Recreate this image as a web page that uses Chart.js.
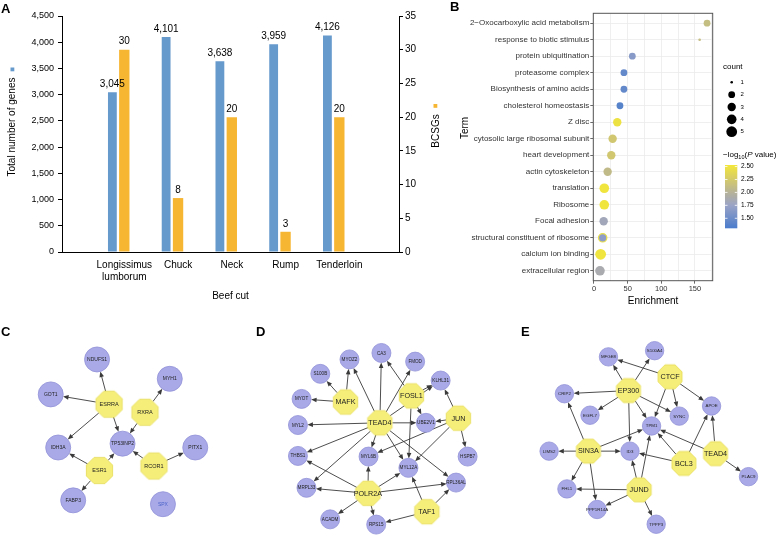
<!DOCTYPE html>
<html>
<head>
<meta charset="utf-8">
<script src="https://cdn.jsdelivr.net/npm/chart.js@4/dist/chart.umd.min.js"></script>
<style>
  html, body { margin: 0; padding: 0; background: #fff; }
  body { width: 780px; height: 545px; position: relative; overflow: hidden; font-family: 'Liberation Sans', Arial, sans-serif; }
  .panel { position: absolute; }
  .tag { position: absolute; font-weight: bold; font-size: 13px; line-height: 13px; color: #000; }
</style>
</head>
<body>
<div class="panel" style="left:0;top:0;width:445px;height:305px"><canvas id="barChart"></canvas></div>
<div class="panel" style="left:445px;top:0;width:335px;height:310px"><canvas id="dotChart"></canvas></div>
<div class="panel" style="left:0;top:290px;width:260px;height:255px"><canvas id="netC"></canvas></div>
<div class="panel" style="left:260px;top:290px;width:260px;height:255px"><canvas id="netD"></canvas></div>
<div class="panel" style="left:520px;top:290px;width:260px;height:255px"><canvas id="netE"></canvas></div>
<div class="tag" style="left:1px;top:2px">A</div>
<div class="tag" style="left:450px;top:0px">B</div>
<div class="tag" style="left:1px;top:325px">C</div>
<div class="tag" style="left:256px;top:325px">D</div>
<div class="tag" style="left:521px;top:325px">E</div>
<script>
'use strict';

// ── Panel A: genes per beef cut ──
const cuts = [['Longissimus', 'lumborum'], 'Chuck', 'Neck', 'Rump', 'Tenderloin'];
const totalGenes = [3045, 4101, 3638, 3959, 4126];
const bcsgs = [30, 8, 20, 3, 20];

// ── Panel B: enrichment terms ──
const terms = [
  '2−Oxocarboxylic acid metabolism', 'response to biotic stimulus', 'protein ubiquitination',
  'proteasome complex', 'Biosynthesis of amino acids', 'cholesterol homeostasis', 'Z disc',
  'cytosolic large ribosomal subunit', 'heart development', 'actin cytoskeleton', 'translation',
  'Ribosome', 'Focal adhesion', 'structural constituent of ribosome', 'calcium ion binding',
  'extracellular region',
];
const enrichment = [168, 157, 57, 44.5, 44.5, 38.6, 34.6, 27.7, 25.7, 20.3, 15.3, 15.3, 14.4, 12.9, 9.9, 8.9];
const termCount = [2, 1, 2, 2, 2, 2, 3, 3, 3, 3, 4, 4, 3, 3, 5, 4];
const logP = [2.12, 2.12, 1.65, 1.45, 1.45, 1.38, 2.48, 2.22, 2.22, 2.08, 2.5, 2.5, 1.82, 1.68, 2.5, 1.88];
const enrichTicks = [0, 50, 100, 150];
const enrichGrid = [0, 25, 50, 75, 100, 125, 150, 175];
const countLevels = [1, 2, 3, 4, 5];
const logPTicks = [1.5, 1.75, 2.0, 2.25, 2.5];

// ── Panels C–E: regulatory networks (layout coordinates) ──
const cNodes = ['NDUFS1', 'GOT1', 'MYH1', 'ESRRA', 'RXRA', 'IDH3A', 'TP53INP2', 'PITX1', 'ESR1', 'RCOR1', 'FABP3', 'SPX'];
const cX = [93.3, 41.7, 174.3, 106.7, 146.7, 50, 121.7, 202.7, 96, 156.7, 66.7, 166.7];
const cY = [62.7, 101.7, 84.3, 112.7, 121.7, 161, 156.7, 161, 186.7, 181.7, 220, 224.3];
const cTF = ['ESRRA', 'RXRA', 'ESR1', 'RCOR1'];
const cEdges = [
  ['ESRRA', 'NDUFS1'], ['ESRRA', 'GOT1'], ['ESRRA', 'IDH3A'], ['ESRRA', 'TP53INP2'],
  ['RXRA', 'MYH1'], ['RXRA', 'TP53INP2'], ['ESR1', 'IDH3A'], ['ESR1', 'TP53INP2'],
  ['ESR1', 'FABP3'], ['RCOR1', 'TP53INP2'], ['RCOR1', 'PITX1'],
];

const dNodes = ['MYOZ2', 'CA3', 'FMOD', 'S100B', 'KLHL31', 'MYOT', 'MAFK', 'FOSL1', 'JUN', 'TEAD4', 'UBE2V1',
  'MYL2', 'THBS1', 'MYL6B', 'MYL12A', 'HSPB7', 'MRPL33', 'POLR2A', 'RPL36AL', 'TAF1', 'ACADM', 'RPS15'];
const dX = [86, 120.7, 157.3, 54.3, 185, 34, 81.7, 153.3, 204.3, 119, 169, 30, 30, 106.7, 150, 214.3, 39.3, 106, 201.7, 170, 65, 115];
const dY = [64.3, 57.3, 66.7, 80, 87.3, 107.3, 110.7, 104, 128.3, 133.3, 133.3, 135.7, 169.3, 170, 182.3, 170, 204, 210, 198.3, 230, 238.3, 244];
const dTF = ['MAFK', 'FOSL1', 'JUN', 'TEAD4', 'POLR2A', 'TAF1'];
const dEdges = [
  ['MAFK', 'MYOZ2'], ['MAFK', 'S100B'], ['MAFK', 'MYOT'],
  ['TEAD4', 'MYOZ2'], ['TEAD4', 'CA3'], ['TEAD4', 'FMOD'], ['TEAD4', 'KLHL31'], ['TEAD4', 'MYL2'],
  ['TEAD4', 'UBE2V1'], ['TEAD4', 'THBS1'], ['TEAD4', 'MYL6B'], ['TEAD4', 'MYL12A'], ['TEAD4', 'RPL36AL'],
  ['TEAD4', 'MRPL33'],
  ['FOSL1', 'CA3'], ['FOSL1', 'KLHL31'], ['FOSL1', 'UBE2V1'], ['FOSL1', 'MYL12A'],
  ['JUN', 'KLHL31'], ['JUN', 'HSPB7'], ['JUN', 'UBE2V1'], ['JUN', 'MYL6B'], ['JUN', 'MYL12A'],
  ['POLR2A', 'THBS1'], ['POLR2A', 'MRPL33'], ['POLR2A', 'MYL6B'], ['POLR2A', 'MYL12A'],
  ['POLR2A', 'RPL36AL'], ['POLR2A', 'ACADM'], ['POLR2A', 'RPS15'],
  ['TAF1', 'MYL12A'], ['TAF1', 'RPL36AL'], ['TAF1', 'RPS15'],
];

const eNodes = ['MFGE8', 'S100A4', 'CTCF', 'EP300', 'CRIP2', 'EGFL7', 'SYNC', 'APOE', 'TPM1', 'LIMS2', 'SIN3A',
  'ID3', 'BCL3', 'TEAD4', 'PLAC9', 'FHL1', 'JUND', 'PPP1R14A', 'TPPP3'];
const eX = [85, 135, 151.7, 106.7, 37.3, 65, 161.7, 196.7, 131.7, 20.7, 63.3, 108.3, 166.7, 201, 236.7, 40, 118.3, 72.7, 136.7];
const eY = [61.7, 55, 83.3, 98.3, 101.7, 125, 126, 115, 136.7, 164, 164, 164, 177.3, 166.7, 191.7, 205, 206, 227.3, 243.3];
const eTF = ['CTCF', 'EP300', 'SIN3A', 'BCL3', 'TEAD4', 'JUND'];
const eEdges = [
  ['CTCF', 'MFGE8'], ['CTCF', 'SYNC'], ['CTCF', 'APOE'], ['CTCF', 'TPM1'],
  ['EP300', 'MFGE8'], ['EP300', 'S100A4'], ['EP300', 'CRIP2'], ['EP300', 'EGFL7'], ['EP300', 'SYNC'],
  ['EP300', 'TPM1'], ['EP300', 'ID3'],
  ['SIN3A', 'CRIP2'], ['SIN3A', 'LIMS2'], ['SIN3A', 'ID3'], ['SIN3A', 'TPM1'], ['SIN3A', 'FHL1'], ['SIN3A', 'PPP1R14A'],
  ['BCL3', 'APOE'], ['BCL3', 'TPM1'], ['BCL3', 'ID3'],
  ['TEAD4', 'APOE'], ['TEAD4', 'TPM1'], ['TEAD4', 'PLAC9'],
  ['JUND', 'ID3'], ['JUND', 'TPM1'], ['JUND', 'FHL1'], ['JUND', 'PPP1R14A'], ['JUND', 'TPPP3'],
];

const FONT = "'Liberation Sans', Arial, sans-serif";
Chart.defaults.font.family = FONT;
Chart.defaults.color = '#000';
Chart.defaults.animation = false;
Chart.defaults.plugins.legend.display = false;
Chart.defaults.plugins.tooltip.enabled = false;

const BLUE = '#6699cc';
const ORANGE = '#f7b632';

// ── A: bar value labels + rotated axis titles ──
const barExtras = {
  id: 'barExtras',
  afterDatasetsDraw(chart) {
    const ctx = chart.ctx;
    ctx.save();
    ctx.font = '10px ' + FONT;
    ctx.fillStyle = '#000';
    ctx.textAlign = 'center';
    ctx.textBaseline = 'bottom';
    chart.data.datasets.forEach((ds, di) => {
      chart.getDatasetMeta(di).data.forEach((bar, i) => {
        ctx.fillText(ds.data[i].y.toLocaleString('en-US'), bar.x, bar.y - 3);
      });
    });
    ctx.textBaseline = 'middle';
    ctx.save();
    ctx.translate(12, 127);
    ctx.rotate(-Math.PI / 2);
    ctx.fillText('Total number of genes', 0, 0);
    ctx.restore();
    ctx.save();
    ctx.translate(436, 131);
    ctx.rotate(-Math.PI / 2);
    ctx.fillText('BCSGs', 0, 0);
    ctx.restore();
    ctx.fillStyle = BLUE;
    ctx.fillRect(10.5, 67.5, 3.8, 3.8);
    ctx.fillStyle = ORANGE;
    ctx.fillRect(433.5, 104, 3.8, 3.8);
    ctx.restore();
  },
};

new Chart(document.getElementById('barChart'), {
  type: 'bar',
  data: {
    datasets: [
      {
        data: totalGenes.map((v, i) => ({ x: i, y: v })), yAxisID: 'y',
        backgroundColor: BLUE, categoryPercentage: 0.443, barPercentage: 0.74,
      },
      {
        data: bcsgs.map((v, i) => ({ x: i, y: v })), yAxisID: 'y2',
        backgroundColor: ORANGE, categoryPercentage: 0.443, barPercentage: 0.87,
      },
    ],
  },
  options: {
    responsive: true, maintainAspectRatio: false,
    layout: { padding: { top: 16, left: 0, right: 0, bottom: 0 } },
    scales: {
      x: {
        type: 'linear', min: -0.421, max: 4.594,
        afterBuildTicks: (s) => { s.ticks = cuts.map((c, i) => ({ value: i })); },
        ticks: { font: { size: 10 }, padding: 7, labelOffset: 6, maxRotation: 0, autoSkip: false, callback: (v) => cuts[v] },
        grid: { display: false, drawTicks: false },
        border: { display: true, color: '#000', width: 1 },
        title: { display: true, text: 'Beef cut', font: { size: 10 }, padding: { top: 0, bottom: 3 } },
        afterFit: (s) => { s.height = 53; },
      },
      y: {
        position: 'left', min: 0, max: 4500,
        ticks: { stepSize: 500, font: { size: 9 }, padding: 4, callback: (v) => v.toLocaleString('en-US') },
        grid: { drawOnChartArea: false, tickLength: 4, color: '#000' },
        border: { color: '#000', width: 1 },
        afterFit: (s) => { s.width = 62; },
      },
      y2: {
        position: 'right', min: 0, max: 35,
        ticks: { stepSize: 5, font: { size: 10 }, padding: 2 },
        grid: { drawOnChartArea: false, tickLength: 4, color: '#000' },
        border: { color: '#000', width: 1 },
        afterFit: (s) => { s.width = 46; },
      },
    },
  },
  plugins: [barExtras],
});

// ── B: colour scale for −log10(P) ──
const P_STOPS = [
  [1.306, [74, 124, 204]], [1.75, [154, 163, 198]], [2.0, [182, 178, 152]],
  [2.25, [212, 202, 106]], [2.53, [243, 231, 58]],
];
function pColor(v) {
  if (v <= P_STOPS[0][0]) return 'rgb(' + P_STOPS[0][1].join(',') + ')';
  for (let i = 1; i < P_STOPS.length; i++) {
    if (v <= P_STOPS[i][0]) {
      const t = (v - P_STOPS[i - 1][0]) / (P_STOPS[i][0] - P_STOPS[i - 1][0]);
      const a = P_STOPS[i - 1][1], b = P_STOPS[i][1];
      return 'rgb(' + a.map((c, k) => Math.round(c + (b[k] - c) * t)).join(',') + ')';
    }
  }
  return 'rgb(' + P_STOPS[P_STOPS.length - 1][1].join(',') + ')';
}
const countRadius = (c) => [1.3, 3.4, 4.2, 4.8, 5.4][c - 1];

const dotExtras = {
  id: 'dotExtras',
  beforeDatasetsDraw(chart) {
    const { ctx, chartArea: a } = chart;
    ctx.save();
    ctx.strokeStyle = '#555';
    ctx.lineWidth = 1;
    ctx.strokeRect(a.left, a.top, a.right - a.left, a.bottom - a.top);
    ctx.fillStyle = '#000';
    ctx.font = '10px ' + FONT;
    ctx.textAlign = 'center';
    ctx.textBaseline = 'middle';
    ctx.translate(20.5, 128);
    ctx.rotate(-Math.PI / 2);
    ctx.fillText('Term', 0, 0);
    ctx.restore();
  },
  afterDraw(chart) {
    const ctx = chart.ctx;
    ctx.save();
    ctx.fillStyle = '#000';
    ctx.textAlign = 'left';
    ctx.textBaseline = 'middle';
    ctx.font = '8px ' + FONT;
    ctx.fillText('count', 278, 67);
    ctx.font = '6px ' + FONT;
    countLevels.forEach((c, i) => {
      const cy = 82.3 + i * 12.35;
      ctx.beginPath();
      ctx.arc(286.7, cy, countRadius(c), 0, Math.PI * 2);
      ctx.fill();
      ctx.fillText(String(c), 295.5, cy);
    });
    // colour bar title: −log10(P value)
    let tx = 278;
    const ty = 155;
    ctx.font = '8px ' + FONT;
    ctx.fillText('−log', tx, ty); tx += ctx.measureText('−log').width;
    ctx.font = '5.5px ' + FONT;
    ctx.fillText('10', tx, ty + 2); tx += ctx.measureText('10').width;
    ctx.font = '8px ' + FONT;
    ctx.fillText('(', tx, ty); tx += ctx.measureText('(').width;
    ctx.font = 'italic 8px ' + FONT;
    ctx.fillText('P', tx, ty); tx += ctx.measureText('P').width;
    ctx.font = '8px ' + FONT;
    ctx.fillText(' value)', tx, ty);
    // colour bar
    const top = 165, bottom = 228.3, lo = P_STOPS[0][0], hi = P_STOPS[P_STOPS.length - 1][0];
    const yOf = (v) => bottom - (v - lo) / (hi - lo) * (bottom - top);
    const grad = ctx.createLinearGradient(0, bottom, 0, top);
    P_STOPS.forEach(([v]) => grad.addColorStop((v - lo) / (hi - lo), pColor(v)));
    ctx.fillStyle = grad;
    ctx.fillRect(280, top, 12.3, bottom - top);
    ctx.strokeStyle = '#fff';
    ctx.lineWidth = 0.8;
    ctx.fillStyle = '#000';
    ctx.font = '6.5px ' + FONT;
    logPTicks.forEach((v) => {
      const y = yOf(v);
      ctx.beginPath();
      ctx.moveTo(280, y); ctx.lineTo(282.5, y);
      ctx.moveTo(289.8, y); ctx.lineTo(292.3, y);
      ctx.stroke();
      ctx.fillText(v.toFixed(2), 296, y);
    });
    ctx.restore();
  },
};

new Chart(document.getElementById('dotChart'), {
  type: 'scatter',
  data: {
    datasets: [{
      data: enrichment.map((v, i) => ({ x: v, y: i })),
      pointRadius: termCount.map(countRadius),
      backgroundColor: logP.map(pColor),
      borderColor: terms.map((t, i) => (i === 13 ? '#e9df4c' : 'rgba(0,0,0,0)')),
      borderWidth: terms.map((t, i) => (i === 13 ? 1.2 : 0)),
      clip: false,
    }],
  },
  options: {
    responsive: true, maintainAspectRatio: false,
    layout: { padding: { top: 13.3, right: 67.3, left: 0, bottom: 0 } },
    scales: {
      x: {
        type: 'linear', min: -1, max: 176.4,
        afterBuildTicks: (s) => { s.ticks = enrichGrid.map((v) => ({ value: v })); },
        ticks: { font: { size: 7.5 }, color: '#333', padding: 1, maxRotation: 0, autoSkip: false,
          callback: (v) => (enrichTicks.includes(v) ? String(v) : '') },
        grid: { color: '#ebebeb', lineWidth: 0.8, tickLength: 3,
          tickColor: (c) => (c.tick && enrichTicks.includes(c.tick.value) ? '#444' : 'rgba(0,0,0,0)') },
        border: { display: false },
        title: { display: true, text: 'Enrichment', font: { size: 10 }, padding: { top: 0, bottom: 3 } },
        afterFit: (s) => { s.height = 29.3; },
      },
      y: {
        type: 'linear', min: -0.6, max: 15.6, reverse: true,
        afterBuildTicks: (s) => { s.ticks = terms.map((t, i) => ({ value: i })); },
        ticks: { font: { size: 8 }, color: '#333', padding: 1, autoSkip: false, callback: (v) => terms[v] },
        grid: { color: '#ebebeb', lineWidth: 0.8, tickLength: 3, tickColor: '#444' },
        border: { display: false },
        afterFit: (s) => { s.width = 148.3; },
      },
    },
  },
  plugins: [dotExtras],
});

// ── C–E: network charts ──
function octagon(r, fill, stroke) {
  const c = document.createElement('canvas');
  const s = Math.ceil(r * 2 + 2);
  c.width = s; c.height = s;
  const g = c.getContext('2d');
  g.beginPath();
  for (let k = 0; k < 8; k++) {
    const ang = Math.PI / 8 + k * Math.PI / 4;
    const px = s / 2 + r * Math.cos(ang), py = s / 2 + r * Math.sin(ang);
    if (k) g.lineTo(px, py); else g.moveTo(px, py);
  }
  g.closePath();
  g.fillStyle = fill; g.fill();
  g.strokeStyle = stroke; g.lineWidth = 0.8; g.stroke();
  return c;
}

function drawNetwork(id, net) {
  const isTF = (n) => net.tfs.includes(n);
  const radius = (n) => (isTF(n) ? net.rTf * 0.95 : net.rGene);
  const pts = (tf) => net.nodes.map((n, i) => ({ x: net.xs[i], y: net.ys[i], n }))
    .filter((p) => isTF(p.n) === tf);

  const netPlugin = {
    id: 'net_' + id,
    beforeDatasetsDraw(chart) {
      const { ctx, scales: { x, y } } = chart;
      ctx.save();
      ctx.strokeStyle = '#3a3a3a';
      ctx.fillStyle = '#3a3a3a';
      ctx.lineWidth = 0.9;
      net.edges.forEach(([from, to]) => {
        const a = net.nodes.indexOf(from), b = net.nodes.indexOf(to);
        const x1 = x.getPixelForValue(net.xs[a]), y1 = y.getPixelForValue(net.ys[a]);
        const x2 = x.getPixelForValue(net.xs[b]), y2 = y.getPixelForValue(net.ys[b]);
        const d = Math.hypot(x2 - x1, y2 - y1), ux = (x2 - x1) / d, uy = (y2 - y1) / d;
        const sx = x1 + ux * radius(from), sy = y1 + uy * radius(from);
        const ex = x2 - ux * radius(to), ey = y2 - uy * radius(to);
        ctx.beginPath();
        ctx.moveTo(sx, sy);
        ctx.lineTo(ex - ux * 4, ey - uy * 4);
        ctx.stroke();
        ctx.beginPath();
        ctx.moveTo(ex, ey);
        ctx.lineTo(ex - ux * 5.5 - uy * 2.3, ey - uy * 5.5 + ux * 2.3);
        ctx.lineTo(ex - ux * 5.5 + uy * 2.3, ey - uy * 5.5 - ux * 2.3);
        ctx.closePath();
        ctx.fill();
      });
      ctx.restore();
    },
    afterDatasetsDraw(chart) {
      const { ctx, scales: { x, y } } = chart;
      ctx.save();
      ctx.textAlign = 'center';
      ctx.textBaseline = 'middle';
      net.nodes.forEach((n, i) => {
        ctx.font = (isTF(n) ? net.fTf : net.fGene) + 'px ' + FONT;
        ctx.fillStyle = n === 'SPX' ? '#4a63c8' : '#222';
        ctx.fillText(n, x.getPixelForValue(net.xs[i]), y.getPixelForValue(net.ys[i]) + 0.3);
      });
      ctx.restore();
    },
  };

  new Chart(document.getElementById(id), {
    type: 'scatter',
    data: {
      datasets: [
        {
          data: pts(false), pointStyle: 'circle', pointRadius: net.rGene,
          backgroundColor: '#a9a9e8', borderColor: '#9292d8', borderWidth: 0.8, clip: false,
        },
        {
          data: pts(true), pointStyle: octagon(net.rTf, '#f5ee78', '#e6dc55'), clip: false,
        },
      ],
    },
    options: {
      responsive: true, maintainAspectRatio: false,
      layout: { padding: 0 },
      scales: {
        x: { type: 'linear', display: false, min: 0, max: 260 },
        y: { type: 'linear', display: false, min: 0, max: 255, reverse: true },
      },
    },
    plugins: [netPlugin],
  });
}

drawNetwork('netC', { nodes: cNodes, xs: cX, ys: cY, tfs: cTF, edges: cEdges, rGene: 12.5, rTf: 14.2, fGene: 5, fTf: 5.5 });
drawNetwork('netD', { nodes: dNodes, xs: dX, ys: dY, tfs: dTF, edges: dEdges, rGene: 9.5, rTf: 13.2, fGene: 4.6, fTf: 7.2 });
drawNetwork('netE', { nodes: eNodes, xs: eX, ys: eY, tfs: eTF, edges: eEdges, rGene: 9.2, rTf: 13, fGene: 4.4, fTf: 7.2 });
</script>
</body>
</html>
